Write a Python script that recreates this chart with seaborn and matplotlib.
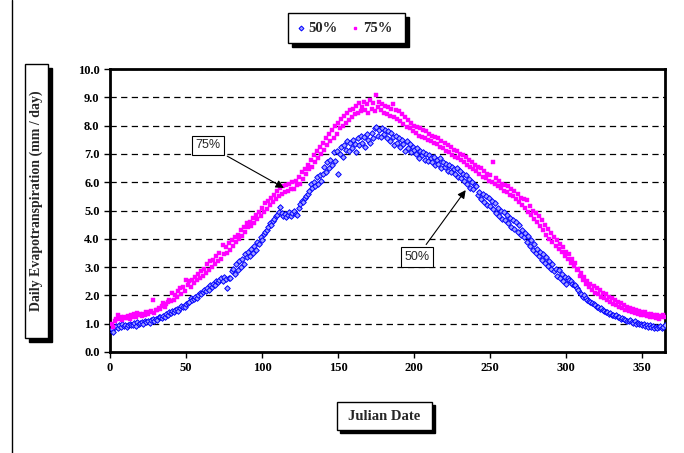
import pandas as pd
import seaborn as sns
import matplotlib.pyplot as plt
from matplotlib.patches import Rectangle
from matplotlib.lines import Line2D

days = list(range(1, 366))

# daily ET (mm/day), 50% level
et_50 = [
    0.80, 0.72, 0.88, 0.92, 0.85, 0.95, 0.90, 0.98, 0.93, 0.95,
    0.88, 0.96, 1.00, 0.94, 0.97, 1.03, 0.92, 1.05, 1.00, 1.02,
    1.06, 1.00, 1.08, 1.05, 1.10, 1.04, 1.12, 1.15, 1.09, 1.18,
    1.14, 1.22, 1.24, 1.20, 1.28, 1.25, 1.33, 1.30, 1.41, 1.38,
    1.45, 1.40, 1.48, 1.52, 1.46, 1.55, 1.62, 1.60, 1.58, 1.68,
    1.72, 1.78, 1.90, 1.82, 1.88, 1.95, 1.92, 2.00, 2.08, 2.05,
    2.12, 2.18, 2.15, 2.25, 2.20, 2.37, 2.30, 2.42, 2.38, 2.50,
    2.46, 2.54, 2.60, 2.52, 2.65, 2.58, 2.26, 2.62, 2.60, 2.85,
    2.95, 2.75, 3.10, 2.90, 3.20, 3.00, 3.30, 3.10, 3.45, 3.35,
    3.55, 3.40, 3.65, 3.50, 3.75, 3.60, 3.90, 3.80, 4.07, 3.95,
    4.18, 4.25, 4.30, 4.40, 4.55, 4.50, 4.62, 4.70, 4.80, 4.85,
    4.95, 5.12, 4.90, 4.82, 4.88, 4.77, 4.85, 4.95, 4.80, 4.92,
    5.00, 4.88, 4.84, 5.10, 5.22, 5.35, 5.30, 5.45, 5.52, 5.60,
    5.70, 5.95, 5.80, 6.00, 5.85, 6.20, 5.95, 6.25, 6.05, 6.30,
    6.55, 6.35, 6.70, 6.50, 6.80, 6.60, 7.05, 6.75, 7.10, 6.30,
    7.00, 7.25, 6.90, 7.30, 7.15, 7.45, 7.10, 7.40, 7.20, 7.50,
    7.35, 7.05, 7.55, 7.30, 7.65, 7.40, 7.60, 7.25, 7.70, 7.50,
    7.40, 7.75, 7.55, 7.90, 7.95, 7.65, 7.85, 7.60, 7.90, 7.70,
    7.85, 7.55, 7.80, 7.45, 7.75, 7.60, 7.30, 7.65, 7.40, 7.55,
    7.25, 7.50, 7.35, 7.10, 7.45, 7.20, 7.35, 7.05, 7.25, 7.15,
    7.00, 7.20, 6.85, 7.10, 6.95, 7.05, 6.80, 7.00, 6.75, 6.95,
    6.85, 6.70, 6.90, 6.60, 6.80, 6.65, 6.85, 6.50, 6.70, 6.55,
    6.65, 6.40, 6.60, 6.35, 6.55, 6.45, 6.30, 6.50, 6.20, 6.40,
    6.15, 6.30, 6.05, 6.25, 5.95, 6.10, 5.80, 6.00, 5.75, 5.90,
    5.85, 5.55, 5.65, 5.40, 5.60, 5.30, 5.50, 5.20, 5.45, 5.15,
    5.35, 5.05, 5.25, 4.90, 5.10, 4.80, 5.00, 4.70, 4.95, 4.65,
    4.85, 4.55, 4.75, 4.40, 4.65, 4.35, 4.60, 4.25, 4.50, 4.15,
    4.30, 4.05, 4.20, 3.90, 4.10, 3.75, 3.95, 3.60, 3.80, 3.50,
    3.65, 3.40, 3.55, 3.25, 3.45, 3.15, 3.35, 3.05, 3.20, 2.95,
    3.10, 2.85, 2.95, 2.70, 2.90, 2.60, 2.75, 2.50, 2.65, 2.40,
    2.60, 2.55, 2.50, 2.42, 2.35, 2.38, 2.25, 2.20, 2.10, 2.05,
    1.95, 2.00, 1.90, 1.85, 1.80, 1.75, 1.72, 1.68, 1.65, 1.60,
    1.58, 1.52, 1.55, 1.48, 1.45, 1.40, 1.42, 1.35, 1.38, 1.32,
    1.30, 1.28, 1.30, 1.22, 1.25, 1.18, 1.20, 1.15, 1.12, 1.10,
    1.08, 1.12, 1.05, 1.04, 1.08, 1.00, 1.02, 0.98, 1.00, 0.95,
    0.98, 0.92, 0.96, 0.90, 0.94, 0.88, 0.92, 0.86, 0.90, 0.85,
    0.88, 0.92, 0.86, 0.90, 0.95,
]

# daily ET (mm/day), 75% level
et_75 = [
    1.00, 0.88, 1.10, 1.15, 1.30, 1.18, 1.22, 1.12, 1.25, 1.20,
    1.20, 1.28, 1.15, 1.32, 1.25, 1.35, 1.22, 1.38, 1.30, 1.34,
    1.28, 1.36, 1.32, 1.40, 1.35, 1.41, 1.45, 1.84, 1.38, 1.50,
    1.48, 1.55, 1.52, 1.62, 1.73, 1.60, 1.70, 1.78, 1.85, 1.80,
    2.08, 1.85, 2.00, 1.95, 2.15, 2.26, 2.05, 2.30, 2.15, 2.54,
    2.35, 2.50, 2.30, 2.55, 2.45, 2.65, 2.54, 2.75, 2.60, 2.85,
    2.70, 2.95, 2.80, 3.10, 2.90, 3.20, 3.00, 3.25, 3.10, 3.40,
    3.20, 3.50, 3.30, 3.78, 3.45, 3.70, 3.50, 3.85, 3.60, 3.95,
    3.75, 4.05, 3.90, 4.15, 4.00, 4.30, 4.10, 4.40, 4.25, 4.55,
    4.40, 4.60, 4.45, 4.75, 4.55, 4.85, 4.70, 4.95, 4.80, 5.10,
    4.95, 5.25, 5.05, 5.35, 5.20, 5.45, 5.30, 5.55, 5.40, 5.70,
    5.50, 5.80, 5.60, 5.85, 5.65, 5.90, 5.70, 5.95, 5.75, 6.00,
    5.75, 6.05, 5.90, 6.20, 5.95, 6.35, 6.10, 6.45, 6.30, 6.60,
    6.45, 6.80, 6.55, 6.95, 6.70, 7.10, 6.85, 7.25, 7.00, 7.40,
    7.15, 7.55, 7.30, 7.70, 7.45, 7.85, 7.55, 8.00, 7.70, 8.10,
    7.90, 8.25, 8.00, 8.35, 8.10, 8.45, 8.20, 8.55, 8.30, 8.60,
    8.40, 8.70, 8.45, 8.80, 8.50, 8.65, 8.85, 8.55, 8.75, 8.45,
    8.90, 8.60, 8.80, 8.50, 9.08, 8.65, 8.85, 8.55, 8.75, 8.45,
    8.70, 8.40, 8.65, 8.35, 8.60, 8.75, 8.30, 8.55, 8.25, 8.50,
    8.15, 8.40, 8.05, 8.30, 7.95, 8.20, 7.90, 8.10, 7.80, 8.00,
    7.75, 7.95, 7.65, 7.90, 7.60, 7.85, 7.55, 7.80, 7.50, 7.70,
    7.45, 7.65, 7.40, 7.60, 7.35, 7.55, 7.25, 7.45, 7.20, 7.40,
    7.10, 7.30, 7.05, 7.25, 6.95, 7.15, 6.90, 7.10, 6.85, 7.00,
    6.80, 6.95, 6.70, 6.90, 6.60, 6.80, 6.55, 6.70, 6.45, 6.60,
    6.40, 6.55, 6.30, 6.50, 6.20, 6.40, 6.15, 6.30, 6.05, 6.25,
    6.00, 6.70, 5.95, 6.15, 5.85, 6.05, 5.80, 5.95, 5.70, 5.90,
    5.65, 5.85, 5.55, 5.75, 5.50, 5.70, 5.40, 5.60, 5.30, 5.45,
    5.20, 5.40, 5.10, 5.37, 4.95, 5.15, 4.85, 5.00, 4.70, 4.90,
    4.60, 4.80, 4.45, 4.65, 4.30, 4.50, 4.15, 4.35, 4.00, 4.20,
    3.90, 4.05, 3.75, 3.95, 3.65, 3.80, 3.55, 3.70, 3.40, 3.55,
    3.30, 3.45, 3.15, 3.30, 3.05, 3.14, 2.90, 2.95, 2.70, 2.80,
    2.55, 2.65, 2.40, 2.50, 2.30, 2.40, 2.20, 2.32, 2.10, 2.25,
    2.05, 2.20, 1.95, 2.10, 1.90, 2.05, 1.85, 1.95, 1.75, 1.90,
    1.70, 1.85, 1.65, 1.78, 1.60, 1.72, 1.55, 1.65, 1.50, 1.60,
    1.45, 1.55, 1.40, 1.52, 1.38, 1.48, 1.35, 1.45, 1.32, 1.42,
    1.30, 1.40, 1.28, 1.36, 1.25, 1.35, 1.22, 1.32, 1.20, 1.30,
    1.18, 1.28, 1.22, 1.30, 1.25,
]

levels = ["50%", "75%"]
x_ticks = [0, 50, 100, 150, 200, 250, 300, 350]
y_ticks = [0, 1, 2, 3, 4, 5, 6, 7, 8, 9, 10]

df = pd.DataFrame({
    "day": days + days,
    "et": et_50 + et_75,
    "level": [levels[0]] * len(days) + [levels[1]] * len(days),
})

sns.set_style("white")
plt.rcParams["font.family"] = ["Liberation Serif", "DejaVu Serif"]

W, H = 684, 453
fig = plt.figure(figsize=(W / 100, H / 100), dpi=100)
ax = fig.add_axes([110 / W, 101 / H, 555 / W, 283 / H])

sns.scatterplot(data=df[df.level == "50%"], x="day", y="et", marker="D", s=8,
                color="#a0a0ff", edgecolor="#0000ff", linewidth=0.7, ax=ax,
                legend=False, zorder=3)
sns.scatterplot(data=df[df.level == "75%"], x="day", y="et", marker="s", s=5,
                color="#ff00ff", edgecolor="#ff00ff", linewidth=0.3, ax=ax,
                legend=False, zorder=3)

ax.set_xlim(0, 365)
ax.set_ylim(0, 10)
ax.set_xticks(x_ticks)
ax.set_yticks(y_ticks)
ax.set_yticklabels([f"{v:.1f}" for v in y_ticks])
ax.set_xlabel("")
ax.set_ylabel("")
for t in ax.get_xticklabels() + ax.get_yticklabels():
    t.set_fontweight("bold")
ax.tick_params(direction="out", length=4, width=1, labelsize=9, colors="black",
               bottom=True, left=True)
ax.yaxis.grid(True, linestyle=(0, (5, 3.5)), color="black", linewidth=0.9)
for sp in ax.spines.values():
    sp.set_color("black")
    sp.set_linewidth(2)

# callouts
box = dict(boxstyle="square,pad=0.3", fc="white", ec="black", lw=0.8)
arrow = dict(arrowstyle="-|>", color="black", lw=0.8, mutation_scale=12)
ax.annotate("75%", xy=(116, 5.75), xytext=(64.5, 7.3), ha="center", va="center",
            fontsize=9, family=["Liberation Sans"], bbox=box, arrowprops=arrow)
ax.annotate("50%", xy=(235, 5.8), xytext=(202, 3.36), ha="center", va="center",
            fontsize=9, family=["Liberation Sans"], bbox=box, arrowprops=arrow)


def shadow_box(x0, y0, x1, y1, off=4):
    # pixel coords, origin top-left
    fig.add_artist(Rectangle(((x0 + off) / W, 1 - (y1 + off) / H), (x1 - x0) / W,
                             (y1 - y0) / H, transform=fig.transFigure,
                             fc="black", ec="black", zorder=1))
    fig.add_artist(Rectangle((x0 / W, 1 - y1 / H), (x1 - x0) / W, (y1 - y0) / H,
                             transform=fig.transFigure, fc="white", ec="black",
                             lw=1, zorder=2))


shadow_box(25, 64, 48, 338)
fig.text(36.5 / W, 1 - 201 / H, "Daily Evapotranspiration (mm / day)", rotation=90,
         ha="center", va="center", fontsize=10, fontweight="bold", zorder=3)

shadow_box(337, 402, 432, 430, off=3)
fig.text(384.5 / W, 1 - 416 / H, "Julian Date", ha="center", va="center",
         fontsize=10.5, fontweight="bold", zorder=3)

# legend
shadow_box(288, 13, 405, 43)
fig.add_artist(Line2D([301 / W], [1 - 28 / H], marker="D", ms=2.5, color="#a0a0ff",
                      mec="#0000ff", mew=0.7, transform=fig.transFigure, zorder=3))
fig.text(308 / W, 1 - 28 / H, "50%", ha="left", va="center", fontsize=10.5,
         fontweight="bold", zorder=3)
fig.add_artist(Line2D([355 / W], [1 - 28 / H], marker="s", ms=2, color="#ff00ff",
                      mec="#ff00ff", transform=fig.transFigure, zorder=3))
fig.text(363 / W, 1 - 28 / H, "75%", ha="left", va="center", fontsize=10.5,
         fontweight="bold", zorder=3)

# page edge on the left
fig.add_artist(Line2D([12 / W, 12 / W], [0, 1], color="black", lw=1,
                      transform=fig.transFigure))

fig.savefig("out.png", dpi=100)
